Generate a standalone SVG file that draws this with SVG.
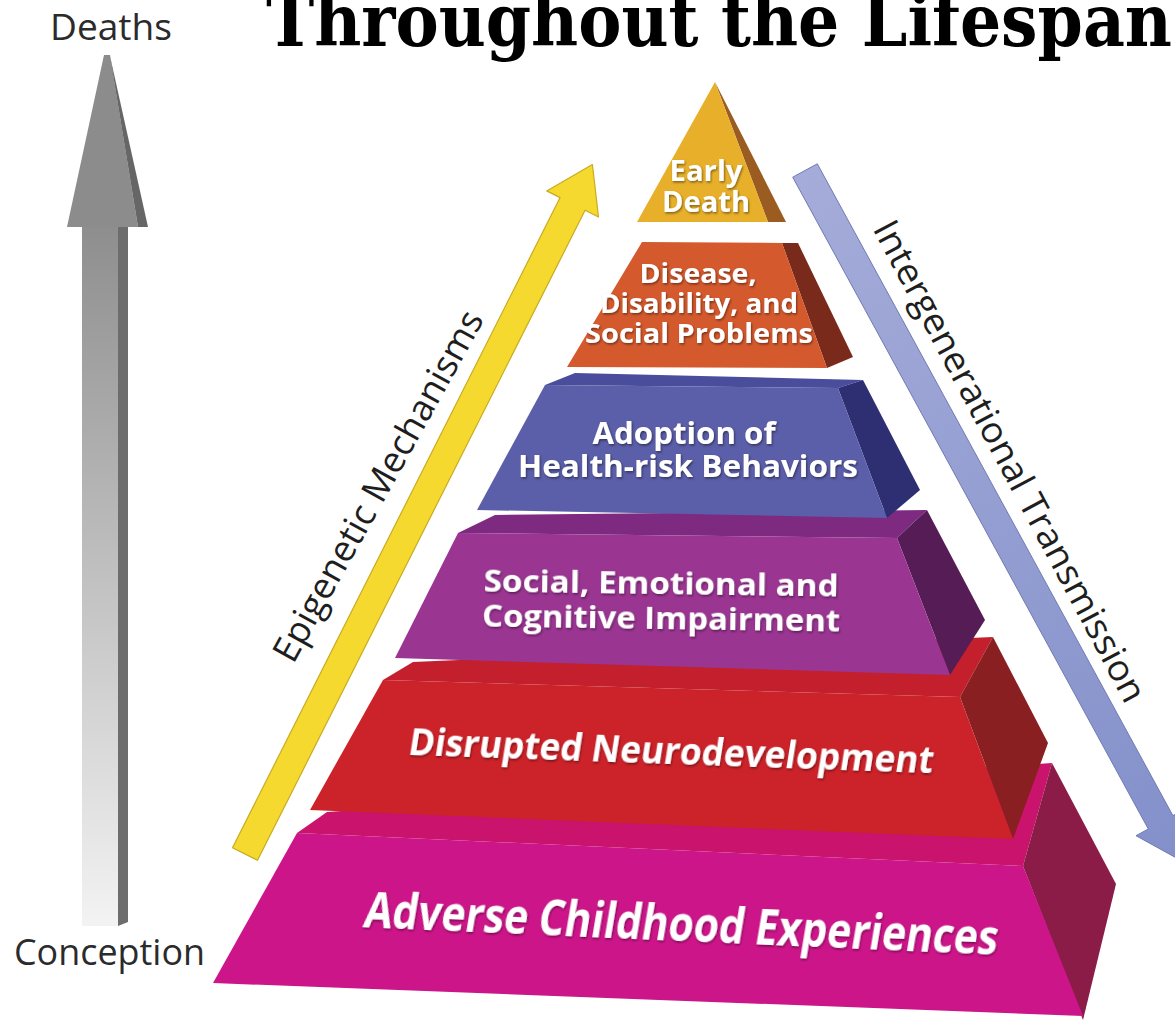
<svg xmlns="http://www.w3.org/2000/svg" width="1175" height="1022" viewBox="0 0 1175 1022">
<defs>
<linearGradient id="shaftGrad" x1="0" y1="227" x2="0" y2="926" gradientUnits="userSpaceOnUse">
<stop offset="0" stop-color="#8e8e8e"/><stop offset="1" stop-color="#f3f3f3"/>
</linearGradient>
<linearGradient id="blueGrad" x1="805" y1="170" x2="1180" y2="860" gradientUnits="userSpaceOnUse">
<stop offset="0" stop-color="#a5acd9"/><stop offset="1" stop-color="#8390ca"/>
</linearGradient>
<filter id="ts" x="-10%" y="-30%" width="120%" height="160%">
<feDropShadow dx="1" dy="1.5" stdDeviation="1" flood-color="#000" flood-opacity="0.45"/>
</filter>
</defs>
<style>
.lbl{font-family:"Open Sans","DejaVu Sans",sans-serif;fill:#2b2b2b;font-size:36px;}
.side{font-family:"Open Sans","DejaVu Sans",sans-serif;fill:#1e1e1e;font-size:36px;text-anchor:middle;}
.w{font-family:"Open Sans","DejaVu Sans",sans-serif;font-weight:700;fill:#fff;text-anchor:middle;filter:url(#ts);}
</style>
<rect width="1175" height="1022" fill="#fff"/>

<g id="title">
<text x="266" y="46" font-family="'DejaVu Serif Condensed','DejaVu Serif','Liberation Serif',serif" font-weight="700" font-size="72" fill="#000" textLength="906" lengthAdjust="spacingAndGlyphs">Throughout the Lifespan</text>
</g>

<g id="label-deaths"><text class="lbl" x="50" y="40" textLength="122" lengthAdjust="spacingAndGlyphs">Deaths</text></g>
<g id="label-conception"><text class="lbl" x="14" y="965" font-size="37" textLength="191" lengthAdjust="spacingAndGlyphs">Conception</text></g>

<g id="connectors">
<g id="time-arrow">
<polygon points="82,227 118,227 118,926 82,926" fill="url(#shaftGrad)"/>
<polygon points="118,227 128,227 128,922 118,926" fill="#6d6d6d"/>
<polygon points="104,55 110,55 138,227 67,227" fill="#8c8c8c"/>
<polygon points="110,56 148,227 138,227" fill="#666"/>
</g>
<g id="arrow-epigenetic">
<path d="M232.5,847.7 L560.1,197.6 L546.7,190.9 L592.4,164.6 L598.5,217 L585.1,210.2 L257.5,860.3 Z" fill="#f6d92f" stroke="#c9ab22" stroke-width="1.2" stroke-linejoin="round"/>
</g>
<g id="arrow-intergenerational">
<path d="M792.7,177.2 L817.3,163.8 L1172.9,815.6 L1185.2,808.9 L1181.7,860.9 L1136,835.7 L1148.3,829 Z" fill="url(#blueGrad)" stroke="#6f7bb3" stroke-width="1" stroke-linejoin="round"/>
</g>
</g>

<g id="label-epigenetic"><text class="side" transform="translate(389,492) rotate(-61)" textLength="395" lengthAdjust="spacingAndGlyphs">Epigenetic Mechanisms</text></g>
<g id="label-intergenerational"><text class="side" transform="translate(999,467) rotate(62)" textLength="540" lengthAdjust="spacingAndGlyphs">Intergenerational Transmission</text></g>

<g id="layer-ace">
<polygon points="297,833 327,812 1052,763 1023,866" fill="#c9136c"/>
<polygon points="1052,763 1116,884 1083,1020 1023,866" fill="#8b1c48"/>
<polygon points="297,833 1023,866 1083,1016 213,983" fill="#cc1589"/>
<text class="w" transform="translate(679,941) rotate(2.5) skewX(-7)" font-size="50" textLength="634" lengthAdjust="spacingAndGlyphs">Adverse Childhood Experiences</text>
</g>

<g id="layer-neuro">
<polygon points="383,680 413,662 993,637 960,697" fill="#c41f2c"/>
<polygon points="960,697 993,637 1048,743 1013,839" fill="#8a1f22"/>
<polygon points="383,680 960,697 1013,839 310,810" fill="#cc2229"/>
<text class="w" transform="translate(669.5,764) rotate(2) skewX(-7)" font-size="38" textLength="525" lengthAdjust="spacingAndGlyphs">Disrupted Neurodevelopment</text>
</g>

<g id="layer-social">
<polygon points="458,533 495,515 927,510 897,538" fill="#7e2a80"/>
<polygon points="897,538 927,510 985,620 950,675" fill="#561c56"/>
<polygon points="458,533 897,538 950,675 395,658" fill="#9a3592"/>
<text class="w" transform="translate(661,594) rotate(0.8)" font-size="31" textLength="355" lengthAdjust="spacingAndGlyphs">Social, Emotional and</text>
<text class="w" transform="translate(661,629) rotate(0.8)" font-size="31" textLength="358" lengthAdjust="spacingAndGlyphs">Cognitive Impairment</text>
</g>

<g id="layer-behaviors">
<polygon points="545,385 575,373 863,380 838,388" fill="#4a4c9c"/>
<polygon points="838,388 863,380 920,490 887,518" fill="#2e2f72"/>
<polygon points="545,385 838,388 887,518 477,510" fill="#5b5ea8"/>
<text class="w" x="684" y="444" font-size="31" textLength="183" lengthAdjust="spacingAndGlyphs">Adoption of</text>
<text class="w" x="688" y="477" font-size="31" textLength="340" lengthAdjust="spacingAndGlyphs">Health-risk Behaviors</text>
</g>

<g id="layer-disease">
<polygon points="782,243 798,243 853,357 827,368" fill="#7a2a1a"/>
<polygon points="642,242 782,243 827,368 567,367" fill="#d45a2e"/>
<text class="w" x="698" y="283" font-size="26" textLength="117" lengthAdjust="spacingAndGlyphs">Disease,</text>
<text class="w" x="699" y="313" font-size="26" textLength="198" lengthAdjust="spacingAndGlyphs">Disability, and</text>
<text class="w" x="699" y="343" font-size="26" textLength="228" lengthAdjust="spacingAndGlyphs">Social Problems</text>
</g>

<g id="layer-death">
<polygon points="715,82 786,222 768,222" fill="#9a5c20"/>
<polygon points="715,82 768,222 637,222" fill="#e8b02a"/>
<text class="w" x="706" y="181" font-size="28" font-weight="600" textLength="73" lengthAdjust="spacingAndGlyphs">Early</text>
<text class="w" x="706" y="212" font-size="28" font-weight="600" textLength="88" lengthAdjust="spacingAndGlyphs">Death</text>
</g>
</svg>
